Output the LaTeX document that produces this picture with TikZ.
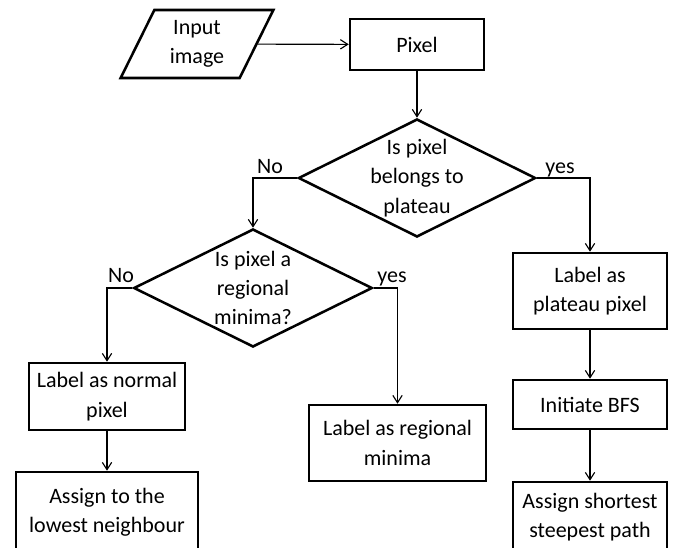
\documentclass[tikz,border=0pt]{standalone}
\usepackage{fontspec}
\setmainfont{Carlito}
\usetikzlibrary{shapes.geometric, arrows.meta}
\tikzstyle{process} = [rectangle, draw, line width=1.9pt, text centered, align=center, inner sep=2pt]
\tikzstyle{io} = [trapezium, trapezium left angle=66, trapezium right angle=114, trapezium stretches=true, draw, line width=1.9pt, align=center, minimum width=115.5pt, minimum height=51pt]
\tikzstyle{decision} = [diamond, draw, line width=1.9pt, inner sep=0pt, minimum width=178pt, minimum height=88.5pt]
\tikzstyle{arrow} = [line width=0.85pt,-{Straight Barb[length=5.5pt,width=7pt]}]
\tikzstyle{answer} = [anchor=base, inner sep=0pt]

\begin{document}
\begin{tikzpicture}[x=0.75pt, y=-0.75pt, font=\fontsize{16.5}{22}\selectfont]
            \fill [white] (0,0) rectangle (677,547);
            \useasboundingbox (0,0) rectangle (677,547);
            \node [io] at (197,44) (input) {Input\\image};
            \node [process, minimum width=100.5pt, minimum height=38.25pt] at (417,44.5) (pixel) {Pixel};
            \node [decision, label={[align=center]center:Is pixel\\belongs to\\plateau}] at (417,178) (plateau) {};
            \node [decision, minimum width=179pt, label={[align=center]center:Is pixel a\\regional\\minima?}] at (253,288) (regional) {};
            \node [process, minimum width=115.5pt, minimum height=57pt] at (590,291) (platpix) {Label as\\plateau pixel};
            \node [process, minimum width=115.5pt, minimum height=36.75pt] at (590,404.5) (bfs) {Initiate BFS};
            \node [process, minimum width=115.5pt, minimum height=52.5pt] at (590,517) (steepest) {Assign shortest\\steepest path};
            \node [process, minimum width=117pt, minimum height=50.25pt] at (107,396.5) (normal) {Label as normal\\pixel};
            \node [process, minimum width=136.5pt, minimum height=60pt] at (107,512) (lowest) {Assign to the\\lowest neighbour};
            \node [process, minimum width=132.75pt, minimum height=57pt] at (397.5,443) (regmin) {Label as regional\\minima};
            \node [answer] at (270,173) (no1) {No};
            \node [answer] at (560,173) (yes1) {yes};
            \node [answer] at (121,282) (no2) {No};
            \node [answer] at (392,282) (yes2) {yes};
            \draw [arrow] (input) -- (pixel);
            \draw [arrow] (pixel) -- (plateau);
            \draw [arrow] (plateau.west) -| (regional.north);
            \draw [arrow] (plateau.east) -| (platpix.north);
            \draw [arrow] (regional.west) -| (normal.north);
            \draw [arrow] (regional.east) -| (regmin.north);
            \draw [arrow] (normal) -- (lowest);
            \draw [arrow] (platpix) -- (bfs);
            \draw [arrow] (bfs) -- (steepest);
            \end{tikzpicture}
\end{document}
